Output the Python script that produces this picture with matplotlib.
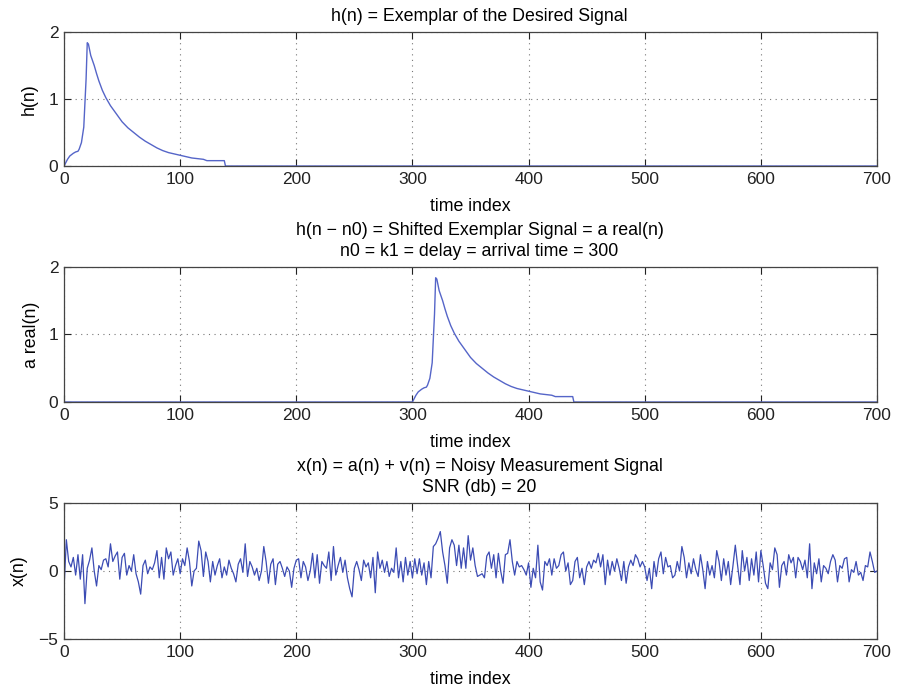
import numpy as np
import matplotlib
matplotlib.use("Agg")
import matplotlib.pyplot as plt

plt.rcParams['font.family'] = ['Liberation Sans', 'DejaVu Sans']

LINE_COLOR = '#5565c8'
NOISE_COLOR = '#3c4cb4'
DELAY = 300
N_MAX = 700
FS = 12.8

# exemplar h(n)
h_n = np.array([0, 3, 5, 8, 10, 12, 13, 15, 17, 19, 20, 21, 23, 26, 28, 30, 33,
                36, 40, 45, 50, 55, 60, 65, 70, 75, 80, 85, 90, 95, 100, 105,
                110, 115, 120, 123, 130, 135, 138, 139, 700])
h_vals = np.array([0.0, 0.10, 0.15, 0.19, 0.21, 0.22, 0.25, 0.35, 0.58, 1.30, 1.84,
                   1.82, 1.65, 1.50, 1.38, 1.27, 1.13, 1.02, 0.90, 0.78, 0.66, 0.57,
                   0.50, 0.43, 0.37, 0.32, 0.27, 0.23, 0.20, 0.18, 0.16, 0.14, 0.12,
                   0.11, 0.10, 0.08, 0.08, 0.08, 0.08, 0.0, 0.0])

x_vals = [
    # 0 .. 138
    -1.3, 2.3, 0.7, 0.3, 1.0, -0.3, 1.2, -0.6, 1.2, -2.4,
    0.2, 0.8, 1.7, 0.0, -1.1, 0.4, 0.1, 0.8, 0.9, 0.3,
    2.0, 0.7, 1.1, 1.4, -0.6, 1.0, 1.3, -0.3, 0.4, 0.0,
    1.2, -0.2, -0.8, -1.7, 0.4, 0.8, -0.2, 0.3, 0.1, 0.6,
    1.5, -0.5, 1.0, -0.6, 1.7, 0.9, 1.4, -0.3, 0.4, 0.9,
    -0.2, 0.9, 0.4, 1.7, 0.7, -1.1, 0.0, 0.2, 2.2, 1.5,
    -0.4, 1.4, 0.7, -0.8, 0.7, -0.3, 0.4, 0.9, -0.5, 0.3,
    # 140 .. 278
    -0.3, 0.8, 0.2, -0.2, -0.8, 0.5, 0.9, -0.1, 2.0, -0.4,
    0.7, 0.3, -0.3, 0.2, -0.7, 0.0, 1.8, 0.7, -0.9, 0.5,
    0.9, -1.0, 0.5, 0.7, 0.2, -0.4, 0.3, 0.0, -1.2, 0.2,
    0.8, 0.9, -0.5, 0.7, 0.3, -0.7, 0.0, 1.3, -0.5, 1.2,
    -0.9, 0.7, 0.4, 0.2, 1.4, -0.7, 1.8, -0.3, 0.4, 1.0,
    -0.1, 0.8, -0.5, -1.3, -1.9, 0.2, 0.7, 0.1, -0.7, 0.8,
    0.3, 0.6, -0.5, 1.0, -1.6, 1.4, 0.2, 0.8, -0.1, 0.7,
    # 280 .. 418
    -0.4, 0.2, -0.1, 1.7, -0.5, 0.7, -0.8, 1.0, -0.3, 0.7,
    -0.5, 0.9, -0.2, 0.9, -0.3, 0.6, -1.0, 0.7, -0.5, 1.8,
    2.0, 2.4, 2.9, 1.4, 0.4, -0.9, 1.7, 2.3, 1.9, 0.4,
    1.9, 0.2, 1.7, 0.2, 2.6, 0.8, 1.7, 0.4, -0.4, -0.3,
    -0.2, -0.5, 1.1, 1.4, 0.2, 1.2, -0.5, 1.3, 0.0, -0.9,
    1.2, 1.3, 2.3, 0.7, -0.3, 0.7, 0.3, 0.4, 0.1, -0.3,
    0.6, -1.2, 0.2, -0.5, 1.9, -0.8, -1.4, 0.7, 0.4, 0.9,
    # 420 .. 558
    -0.3, 0.9, 0.2, 0.4, 1.2, 1.4, 0.0, 0.6, -1.0, -0.7,
    0.7, 1.0, -0.5, 0.2, -1.0, 0.3, 0.7, 0.2, 0.8, 0.6,
    1.3, 0.3, 1.2, -1.0, 0.8, -0.3, 0.7, 0.0, 0.9, 0.2,
    -0.7, 0.7, -0.9, 0.3, 0.8, 0.4, 1.2, 0.9, 0.3, 0.7,
    0.3, -0.7, 0.2, -1.3, 0.7, -0.4, 0.9, 1.4, -0.2, 1.0,
    0.3, 0.4, -0.5, -0.3, 0.7, 0.0, 1.8, 1.0, -0.5, 0.6,
    -0.2, 0.9, 0.1, -0.4, 1.2, 0.1, -1.3, 0.7, -0.3, 0.4,
    # 560 .. 700
    -0.5, 1.5, 0.7, -0.7, 0.9, -0.3, 0.7, -1.0, 0.4, 1.9,
    0.4, -1.0, 1.5, 0.0, 1.0, -0.7, 0.9, -0.3, 1.4, -0.8,
    1.5, 0.4, -0.9, -1.3, 0.6, 0.1, 1.7, 1.2, -1.2, 0.4,
    0.7, -0.3, 1.2, 0.6, 1.0, -0.5, 1.0, 0.7, 0.1, 0.8,
    -0.5, 2.0, -1.3, 0.6, -0.2, 0.9, -0.8, 0.4, 0.2, -0.2,
    0.7, 1.2, 0.8, -0.8, 0.4, 0.2, 0.9, 1.0, -0.8, 0.1,
    -0.1, 0.7, -0.3, -0.1, -0.7, 0.4, 0.3, 1.4, 0.7, -0.1,
    0.0,
]
x_n = np.arange(0, N_MAX + 1, 2)

# shifted exemplar a(n) = h(n - n0)
a_n = np.concatenate([[0], h_n[:-1] + DELAY, [N_MAX]])
a_vals = np.concatenate([[0.0], h_vals[:-1], [0.0]])


def style_axes(ax, yticks):
    ax.set_xlim(0, N_MAX)
    ax.set_xticks(range(0, N_MAX + 1, 100))
    ax.set_ylim(yticks[0], yticks[-1])
    ax.set_yticks(yticks)
    ax.grid(True, linestyle=(0, (1, 4)), color='#777777', linewidth=0.8)
    ax.tick_params(direction='in', length=5, width=0.8, top=True, right=True,
                   labelsize=12.5, colors='#222222', pad=4)
    for sp in ax.spines.values():
        sp.set_color('#444444')
        sp.set_linewidth(0.9)
    ax.set_xlabel('time index', fontsize=FS, labelpad=8)


def set_title(ax, text):
    ax.set_title(text, fontsize=FS, pad=8, x=0.511, linespacing=1.3)


fig = plt.figure(figsize=(8.98, 6.90), dpi=100)
ax1 = fig.add_axes([0.0713, 0.7594, 0.9053, 0.1942])
ax2 = fig.add_axes([0.0713, 0.4174, 0.9053, 0.1957])
ax3 = fig.add_axes([0.0713, 0.0739, 0.9053, 0.1971])

ax1.plot(h_n, h_vals, color=LINE_COLOR, linewidth=1.0)
style_axes(ax1, [0, 1, 2])
ax1.set_ylabel('h(n)', fontsize=FS, labelpad=8)
set_title(ax1, 'h(n) = Exemplar of the Desired Signal')

ax2.plot(a_n, a_vals, color=LINE_COLOR, linewidth=1.0)
style_axes(ax2, [0, 1, 2])
ax2.set_ylabel('a real(n)', fontsize=FS, labelpad=6)
set_title(ax2, 'h(n \u2212 n0) = Shifted Exemplar Signal = a real(n)\n'
               'n0 = k1 = delay = arrival time = 300')

ax3.plot(x_n, x_vals, color=NOISE_COLOR, linewidth=0.9)
style_axes(ax3, [-5, 0, 5])
ax3.set_ylabel('x(n)', fontsize=FS, labelpad=8)
set_title(ax3, 'x(n) = a(n) + v(n) = Noisy Measurement Signal\nSNR (db) = 20')

fig.savefig('out.png', dpi=100)
